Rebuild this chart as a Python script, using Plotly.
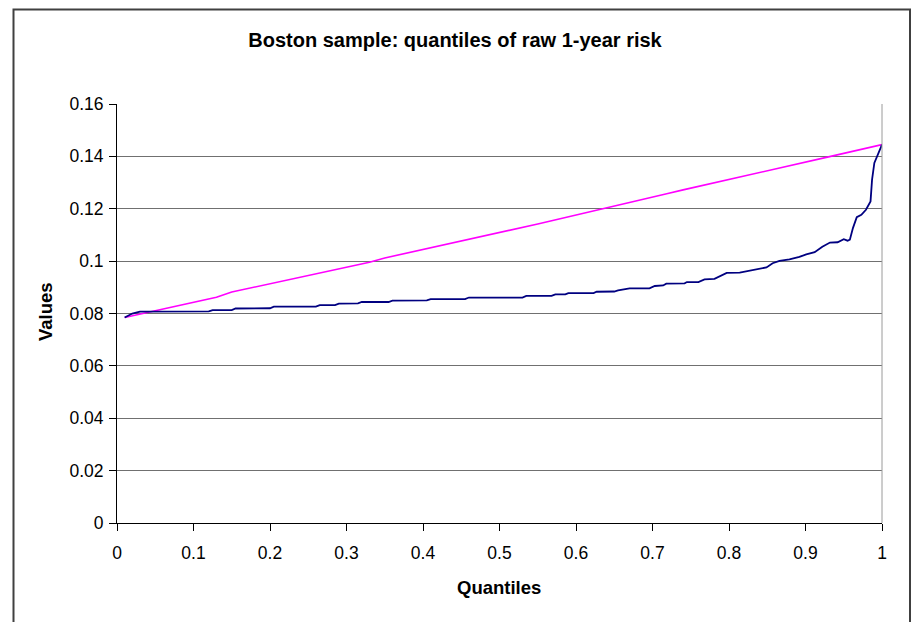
import plotly.graph_objects as go

title_text = "Boston sample: quantiles of raw 1-year risk"
x_title = "Quantiles"
y_title = "Values"

# Reference (magenta) line: quantile vs value
ref_q = [0.01, 0.13, 0.15, 0.33, 0.35, 0.53, 0.55, 0.72, 0.74, 0.93, 0.95, 1.00]
ref_v = [0.0785, 0.0862, 0.0882, 0.0996, 0.1012, 0.1128, 0.1142, 0.1258, 0.1272, 0.1398, 0.1412, 0.1445]

# Sample quantiles (navy line)
smp_q = [0.01, 0.02, 0.03, 0.12, 0.125, 0.15, 0.155, 0.20, 0.205, 0.26, 0.265, 0.285,
         0.29, 0.315, 0.32, 0.355, 0.36, 0.405, 0.41, 0.455, 0.46, 0.53, 0.535, 0.568,
         0.573, 0.586, 0.59, 0.623, 0.627, 0.650, 0.655, 0.665, 0.67, 0.696, 0.703, 0.714,
         0.718, 0.742, 0.745, 0.760, 0.768, 0.781, 0.797, 0.814, 0.823, 0.840, 0.849, 0.857,
         0.866, 0.879, 0.892, 0.901, 0.912, 0.922, 0.932, 0.942, 0.950, 0.955, 0.958, 0.962,
         0.967, 0.973, 0.979, 0.985, 0.987, 0.990, 1.000]
smp_v = [0.0785, 0.0800, 0.0807, 0.0808, 0.0813, 0.0813, 0.0819, 0.0820, 0.0826, 0.0826, 0.0832, 0.0832,
         0.0838, 0.0839, 0.0844, 0.0844, 0.0849, 0.0850, 0.0855, 0.0855, 0.0861, 0.0861, 0.0867, 0.0867,
         0.0873, 0.0873, 0.0878, 0.0878, 0.0883, 0.0884, 0.0888, 0.0893, 0.0896, 0.0896, 0.0905, 0.0907,
         0.0914, 0.0915, 0.0920, 0.0920, 0.0930, 0.0932, 0.0955, 0.0956, 0.0961, 0.0970, 0.0976, 0.0992,
         0.1001, 0.1007, 0.1016, 0.1026, 0.1034, 0.1055, 0.1071, 0.1072, 0.1084, 0.1078, 0.1082, 0.1126,
         0.1168, 0.1177, 0.1196, 0.1228, 0.1311, 0.1375, 0.1445]

x_ticks = [0, 0.1, 0.2, 0.3, 0.4, 0.5, 0.6, 0.7, 0.8, 0.9, 1]
x_tick_labels = ["0", "0.1", "0.2", "0.3", "0.4", "0.5", "0.6", "0.7", "0.8", "0.9", "1"]
y_ticks = [0, 0.02, 0.04, 0.06, 0.08, 0.1, 0.12, 0.14, 0.16]
y_tick_labels = ["0", "0.02", "0.04", "0.06", "0.08", "0.1", "0.12", "0.14", "0.16"]

FONT = "Liberation Sans, Arial, sans-serif"
OFF = 8  # default page body margin

W, H = 919 - OFF, 622 - OFF
PL, PR, PT, PB = 117, 882, 104, 523  # plot area in page pixels
PW, PH = PR - PL, PB - PT


def px(xp):
    return (xp - PL) / PW


def py(yp):
    return (PB - yp) / PH


fig = go.Figure()
fig.add_trace(go.Scatter(x=ref_q, y=ref_v, mode="lines",
                         line=dict(color="#FF00FF", width=1.6), showlegend=False))
fig.add_trace(go.Scatter(x=smp_q, y=smp_v, mode="lines",
                         line=dict(color="#000080", width=1.8), showlegend=False))

fig.update_layout(
    width=W, height=H,
    margin=dict(l=PL - OFF, r=(919 - PR), t=PT - OFF, b=(622 - PB)),
    paper_bgcolor="white", plot_bgcolor="white",
    font=dict(family=FONT, color="black"),
    title=dict(text="<b>" + title_text + "</b>", x=(455 - OFF) / W, xref="container", xanchor="center",
               y=1 - (40 - OFF) / H, yref="container", yanchor="middle",
               font=dict(size=20, family=FONT, color="black")),
    showlegend=False,
)
fig.update_xaxes(range=[0, 1], tickvals=x_ticks, ticktext=x_tick_labels,
                 showgrid=False, zeroline=False,
                 showline=True, linecolor="black", linewidth=1,
                 ticks="outside", ticklen=7, tickcolor="black", ticklabelstandoff=7,
                 tickfont=dict(size=17.5, family=FONT, color="black"))
fig.update_yaxes(range=[0, 0.16], tickvals=y_ticks, ticktext=y_tick_labels,
                 showgrid=True, gridcolor="#707070", gridwidth=1, zeroline=False,
                 showline=True, linecolor="black", linewidth=1,
                 ticks="outside", ticklen=7, tickcolor="black", ticklabelstandoff=2,
                 tickfont=dict(size=17.5, family=FONT, color="black"))

# plot area border (right side)
fig.add_shape(type="line", xref="paper", yref="paper", x0=1, x1=1, y0=0, y1=1,
              line=dict(color="#9a9a9a", width=1))
# outer chart frame
fig.add_shape(type="rect", xref="paper", yref="paper",
              x0=px(13.5), x1=px(910), y0=py(640), y1=py(9.5),
              line=dict(color="#404040", width=2), fillcolor="rgba(0,0,0,0)")

fig.add_annotation(text="<b>" + x_title + "</b>", xref="paper", yref="paper",
                   x=px(499), y=py(587), xanchor="center", yanchor="middle",
                   showarrow=False, font=dict(size=18.5, family=FONT, color="black"))
fig.add_annotation(text="<b>" + y_title + "</b>", xref="paper", yref="paper",
                   x=px(45), y=py(312), xanchor="center", yanchor="middle",
                   textangle=-90, showarrow=False, font=dict(size=18.5, family=FONT, color="black"))

fig.write_html("out.html")
